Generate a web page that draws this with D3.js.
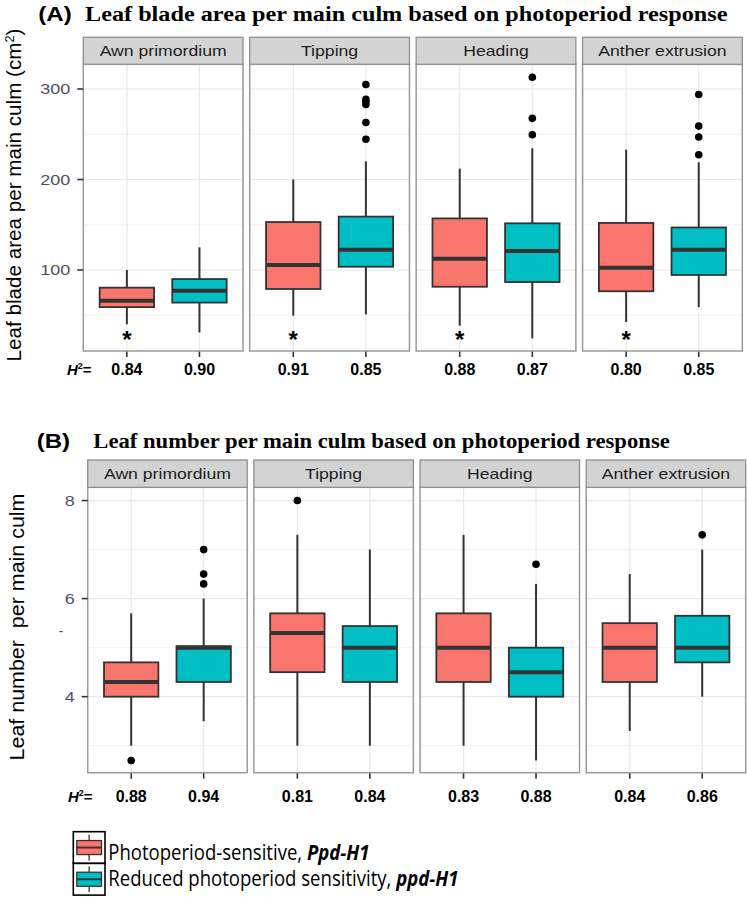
<!DOCTYPE html>
<html><head><meta charset="utf-8">
<script src="https://cdn.jsdelivr.net/npm/d3@7"></script>
<style>body{margin:0;background:#fff}svg{display:block}</style>
</head><body>
<svg id="c" width="747" height="897"></svg>
<script>
// ---------------- DATA ----------------
const stages = ["Awn primordium", "Tipping", "Heading", "Anther extrusion"];
const genotypes = ["sensitive", "reduced"];
const colors = ["#F8766D", "#00BFC4"];
// five-number summaries: [lower whisker, Q1, median, Q3, upper whisker]
const areaSensitive = [[40,59,66,80.5,100],[49.5,79,105.5,153,200],[38.5,81.5,112.5,157,212],[42.5,76.5,102.5,152,233]];
const areaReduced   = [[31,64,77,90,125],[51,103.6,122.5,159,220],[24.5,86.7,121,151.6,234.5],[59,94.5,122.5,147,219]];
const areaOutSensitive = [[],[],[],[]];
const areaOutReduced   = [[],[305,288.6,286,283,263,244.5],[313,267.6,249.5],[294,259,247,227.4]];
const areaH2Sensitive = ["0.84","0.91","0.88","0.80"];
const areaH2Reduced   = ["0.90","0.85","0.87","0.85"];
const areaStarValue = 27;
const areaTicks = [100, 200, 300];
const areaMinor = [50, 150, 250];

const leafSensitive = [[3.0,4.0,4.3,4.7,5.7],[3.0,4.5,5.3,5.7,7.3],[3.0,4.3,5.0,5.7,7.3],[3.3,4.3,5.0,5.5,6.5]];
const leafReduced   = [[3.5,4.3,5.0,5.03,6.0],[3.0,4.3,5.0,5.44,7.0],[2.7,4.0,4.5,5.0,6.3],[4.0,4.7,5.0,5.65,7.0]];
const leafOutSensitive = [[2.7],[8.0],[],[]];
const leafOutReduced   = [[7.0,6.5,6.3],[],[6.7],[7.3]];
const leafH2Sensitive = ["0.88","0.81","0.83","0.84"];
const leafH2Reduced   = ["0.94","0.84","0.88","0.86"];
const leafTicks = [4, 6, 8];
const leafMinor = [3, 5, 7];

const legendLabels = [["Photoperiod-sensitive, ", "Ppd-H1"], ["Reduced photoperiod sensitivity, ", "ppd-H1"]];

// ---------------- DRAW ----------------
const svg = d3.select("#c");
svg.append("rect").attr("width",747).attr("height",897).attr("fill","#fff");

function measure(text, font){
  const t = svg.append("text").style("font", font).style("white-space","pre").text(text);
  const w = t.node().getComputedTextLength(); t.remove(); return w;
}
function txt(parent, str, x, y, font, opts={}){
  const t = parent.append("text").style("font", font).style("white-space","pre")
    .attr("text-anchor", opts.anchor || "start").attr("fill", opts.fill || "#000")
    .attr("transform", `translate(${x},${y})${opts.rot?` rotate(${opts.rot})`:""} scale(${opts.sx||1},1)`)
    .text(str);
  return t;
}

const stripFont = "15px 'Liberation Sans', Arial, sans-serif";
const stripSx = 127 / measure("Awn primordium", stripFont);
const tickFont = "14px 'Liberation Sans', Arial, sans-serif";
const tickSx = 30 / measure("300", tickFont);
const h2Font = "bold 16px 'Liberation Sans', Arial, sans-serif";

function drawFacet(cfg){
  const g = svg.append("g");
  const step = (cfg.right - cfg.left + cfg.gap) / stages.length;
  const fx = d3.scaleBand().domain(stages).range([cfg.left, cfg.right])
    .paddingInner(cfg.gap / step).paddingOuter(0);
  const pw = fx.bandwidth();
  const plotTop = cfg.top + cfg.stripH;
  const y = d3.scaleLinear().domain(cfg.yDomain).range([cfg.bottom, plotTop]);
  const xi = d3.scalePoint().domain(genotypes).range([0, pw]).padding(0.6);
  const bw = xi.step() * 0.75;

  stages.forEach((s, si) => {
    const p = g.append("g").attr("transform", `translate(${fx(s)},0)`);
    p.append("rect").attr("x",0).attr("y",plotTop).attr("width",pw).attr("height",cfg.bottom-plotTop).attr("fill","#fff");
    cfg.minor.forEach(v => p.append("line").attr("x1",0).attr("x2",pw).attr("y1",y(v)).attr("y2",y(v))
      .attr("stroke","#f3f3f3").attr("stroke-width",1));
    cfg.ticks.forEach(v => p.append("line").attr("x1",0).attr("x2",pw).attr("y1",y(v)).attr("y2",y(v))
      .attr("stroke","#e8e8e8").attr("stroke-width",1.2));
    genotypes.forEach(gn => p.append("line").attr("x1",xi(gn)).attr("x2",xi(gn)).attr("y1",plotTop).attr("y2",cfg.bottom)
      .attr("stroke","#e8e8e8").attr("stroke-width",1.2));

    genotypes.forEach((gn, gi) => {
      const st = cfg.stats[gi][si];
      const cx = xi(gn);
      p.append("line").attr("x1",cx).attr("x2",cx).attr("y1",y(st[0])).attr("y2",y(st[4]))
        .attr("stroke","#333").attr("stroke-width",2);
      p.append("rect").attr("x",cx-bw/2).attr("y",y(st[3])).attr("width",bw).attr("height",y(st[1])-y(st[3]))
        .attr("fill",colors[gi]).attr("stroke","#333").attr("stroke-width",1.8);
      p.append("line").attr("x1",cx-bw/2).attr("x2",cx+bw/2).attr("y1",y(st[2])).attr("y2",y(st[2]))
        .attr("stroke","#333").attr("stroke-width",4);
      cfg.outliers[gi][si].forEach(v => p.append("circle").attr("cx",cx).attr("cy",y(v)).attr("r",3.8).attr("fill","#000"));
      p.append("line").attr("x1",cx).attr("x2",cx).attr("y1",cfg.bottom).attr("y2",cfg.bottom+6)
        .attr("stroke","#333").attr("stroke-width",1.6);
      txt(p, cfg.h2[gi][si], cx, cfg.h2Y, h2Font, {anchor:"middle"});
    });
    if (cfg.star) {
      txt(p, "*", xi(genotypes[0]), y(cfg.star) + 12, "bold 24px 'Liberation Sans', Arial, sans-serif", {anchor:"middle"});
    }
    p.append("rect").attr("x",0).attr("y",plotTop).attr("width",pw).attr("height",cfg.bottom-plotTop)
      .attr("fill","none").attr("stroke","#9a9a9a").attr("stroke-width",1.5);
    p.append("rect").attr("x",0).attr("y",cfg.top).attr("width",pw).attr("height",cfg.stripH)
      .attr("fill","#d3d3d3").attr("stroke","#8f8f8f").attr("stroke-width",1.3);
    txt(p, s, pw/2, cfg.top + cfg.stripH/2 + 5.5, stripFont, {anchor:"middle", fill:"#1e1e1e", sx:stripSx});
  });

  cfg.ticks.forEach(v => {
    g.append("line").attr("x1",cfg.left-6).attr("x2",cfg.left).attr("y1",y(v)).attr("y2",y(v))
      .attr("stroke","#333").attr("stroke-width",1.6);
    txt(g, String(v), cfg.left - 13, y(v) + 5, tickFont, {anchor:"end", fill:"#4f5060", sx:tickSx});
  });

  const h = g.append("text").attr("transform",`translate(${cfg.h2LabelX},${cfg.h2Y})`)
    .style("font","bold 15px 'Liberation Sans', Arial, sans-serif");
  h.append("tspan").style("font-style","italic").text("H");
  h.append("tspan").attr("dy",-6).style("font-size","9px").text("2");
  h.append("tspan").attr("dy",6).text("=");
  return {y, fx};
}

drawFacet({
  left:83.3, right:742.3, gap:6.7, top:37.3, stripH:27, bottom:351,
  yDomain:[10.5, 327.3], ticks:areaTicks, minor:areaMinor,
  stats:[areaSensitive, areaReduced], outliers:[areaOutSensitive, areaOutReduced],
  h2:[areaH2Sensitive, areaH2Reduced], h2Y:375, h2LabelX:67, star:areaStarValue
});
drawFacet({
  left:87.7, right:745.7, gap:6.7, top:460, stripH:27.3, bottom:772.7,
  yDomain:[2.45, 8.27], ticks:leafTicks, minor:leafMinor,
  stats:[leafSensitive, leafReduced], outliers:[leafOutSensitive, leafOutReduced],
  h2:[leafH2Sensitive, leafH2Reduced], h2Y:802, h2LabelX:68, star:null
});

txt(svg, "-", 61, 636, "14px 'Liberation Sans', Arial, sans-serif", {anchor:"middle", fill:"#555"});

// Titles
const labFont = "bold 20px 'Liberation Sans', Arial, sans-serif";
const titleFont = "bold 20px 'Liberation Serif', 'Times New Roman', serif";
const labSx = 33.4/measure("(A)", labFont);
txt(svg, "(A)", 38.3, 21, labFont, {sx: labSx});
const tA = "Leaf blade area per main culm based on photoperiod response";
txt(svg, tA, 85, 21, titleFont, {sx: 643/measure(tA, titleFont)});
txt(svg, "(B)", 36.7, 447.5, labFont, {sx: labSx});
const tB = "Leaf number per main culm based on photoperiod response";
txt(svg, tB, 93.3, 447.5, titleFont, {sx: 577/measure(tB, titleFont)});

// Y axis titles
const ytFont = "21px 'Liberation Sans', Arial, sans-serif";
{
  const t = svg.append("text").style("font", ytFont).attr("text-anchor","middle");
  t.append("tspan").text("Leaf blade area per main culm (cm");
  t.append("tspan").attr("dy",-7).style("font-size","13px").text("2");
  t.append("tspan").attr("dy",7).text(")");
  const w = t.node().getComputedTextLength();
  t.attr("transform", `translate(21,195) rotate(-90) scale(${333/w},1)`);
}
{
  const s = "Leaf number  per main culm";
  const t = svg.append("text").style("font", ytFont).style("white-space","pre").attr("text-anchor","middle").text(s);
  const w = t.node().getComputedTextLength();
  t.attr("transform", `translate(24,627) rotate(-90) scale(${267/w},1)`);
}

// Legend
const legFont = "21px 'Open Sans', 'Liberation Sans', sans-serif";
const lg = svg.append("g");
const keyX = 73.3, keyW = 31.7, keyTop = 831.7, keyH = 31.7;
const legSx = 263 / measure(legendLabels[0].join(""), legFont);
genotypes.forEach((gn, i) => {
  const ky = keyTop + i*keyH;
  lg.append("rect").attr("x",keyX).attr("y",ky).attr("width",keyW).attr("height",keyH)
    .attr("fill","#fff").attr("stroke","#000").attr("stroke-width",1.6);
  const cx = keyX + keyW/2, cy = ky + keyH/2;
  lg.append("line").attr("x1",cx).attr("x2",cx).attr("y1",ky+3).attr("y2",ky+keyH-3).attr("stroke","#333").attr("stroke-width",1.3);
  lg.append("rect").attr("x",keyX+3.5).attr("y",cy-7).attr("width",keyW-7).attr("height",14)
    .attr("fill",colors[i]).attr("stroke","#333").attr("stroke-width",1.3);
  lg.append("line").attr("x1",keyX+3.5).attr("x2",keyX+keyW-3.5).attr("y1",cy).attr("y2",cy).attr("stroke","#333").attr("stroke-width",2);
  const t = lg.append("text").style("font", legFont)
    .attr("transform", `translate(108.3,${[860,886][i]}) scale(${legSx},1)`);
  t.append("tspan").style("white-space","pre").text(legendLabels[i][0]);
  t.append("tspan").style("font-weight","bold").style("font-style","italic").text(legendLabels[i][1]);
});
</script>
</body></html>
